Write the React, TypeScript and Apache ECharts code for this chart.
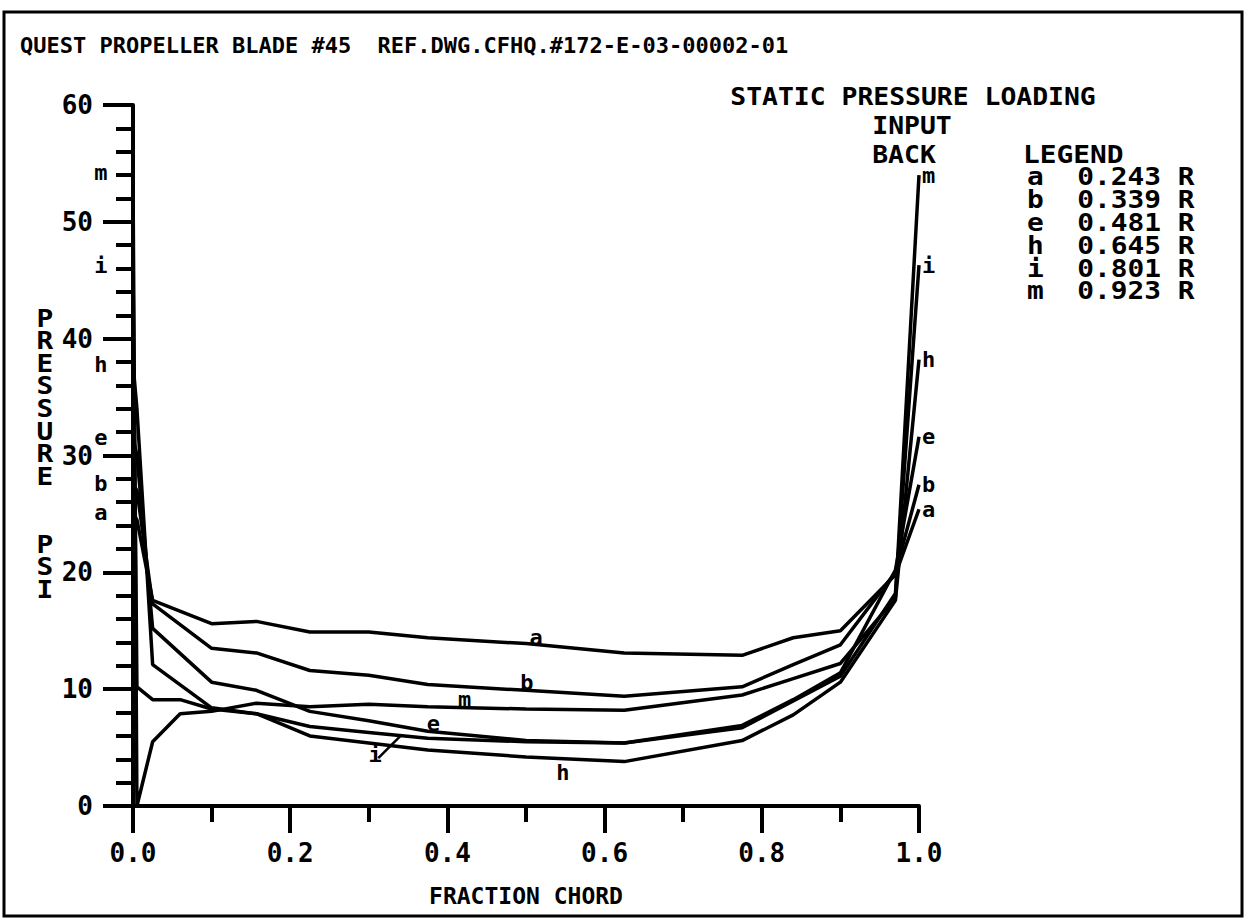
import React, { useEffect, useRef } from "react";
import * as echarts from "echarts";

// ---- data ----
const chord = [0, 0.005, 0.025, 0.06, 0.1, 0.157, 0.225, 0.3, 0.375, 0.5, 0.625, 0.775, 0.84, 0.9, 0.97, 1.0];
const curveLetters = ["a", "b", "e", "h", "i", "m"];
const radii = ["0.243", "0.339", "0.481", "0.645", "0.801", "0.923"];
const valuesA = [25.1, 24.5, 17.6, null, 15.6, 15.8, 14.9, 14.9, 14.4, 13.9, 13.1, 12.9, 14.4, 15.0, 19.8, 25.4];
const valuesB = [27.6, 27.0, 17.3, null, 13.5, 13.1, 11.6, 11.2, 10.4, 9.9, 9.4, 10.2, 12.1, 13.8, 20.0, 27.5];
const valuesE = [31.5, 30.0, 15.2, null, 10.6, 9.9, 8.1, 7.3, 6.4, 5.6, 5.4, 6.9, 9.1, 11.4, 20.2, 31.6];
const valuesH = [37.8, 34.0, 12.1, null, 8.4, 7.9, 6.0, 5.4, 4.8, 4.2, 3.8, 5.6, 7.8, 10.6, 17.6, 38.2];
const valuesI = [46.3, 10.2, 9.1, 9.1, 8.3, 7.9, 6.8, 6.3, 5.8, 5.5, 5.4, 6.7, 9.0, 11.1, 18.2, 46.3];
const valuesM = [54.2, 0.0, 5.5, 7.9, 8.1, 8.8, 8.5, 8.7, 8.5, 8.3, 8.2, 9.5, 10.9, 12.2, 17.8, 54.0];
const allValues = [valuesA, valuesB, valuesE, valuesH, valuesI, valuesM];

// in-plot curve label positions (data coordinates)
const midLabelX = [0.513, 0.501, 0.382, 0.547, 0.308, 0.422];
const midLabelY = [14.4, 10.6, 7.1, 2.9, 4.4, 9.1];
// pointer for the "i" label
const iPointerFrom = [0.312, 4.1];
const iPointerTo = [0.342, 6.1];

const title = "QUEST PROPELLER BLADE #45  REF.DWG.CFHQ.#172-E-03-00002-01";
const infoLines = ["STATIC PRESSURE LOADING", "INPUT", "BACK"];
const yName = "PRESSURE  PSI";
const xName = "FRACTION CHORD";

const FONT = "DejaVu Sans Mono";

export default function App() {
  const ref = useRef<HTMLDivElement>(null);
  useEffect(() => {
    if (!ref.current) return;
    const chart = echarts.init(ref.current, null, { renderer: "svg" });

    const labelFont = {
      color: "#000",
      fontFamily: FONT,
      fontWeight: "bold",
      fontSize: 22,
      lineHeight: 18,
    };

    const series: any[] = allValues.map((vals, k) => {
      const letter = curveLetters[k];
      const data = chord.map((x, j) => [x, vals[j]]);
      const s: any = {
        type: "line",
        name: letter,
        data,
        connectNulls: true,
        showSymbol: false,
        symbol: "none",
        lineStyle: { color: "#000", width: 3.5 },
        itemStyle: { color: "#000" },
        endLabel: { show: true, formatter: letter, distance: 3, ...labelFont },
        markPoint: {
          symbol: "circle",
          symbolSize: 1,
          itemStyle: { color: "rgba(0,0,0,0)" },
          data: [
            {
              coord: [chord[0], vals[0]],
              label: { show: true, position: "left", distance: 25, formatter: letter },
            },
            {
              coord: [midLabelX[k], midLabelY[k]],
              label: { show: true, position: "inside", formatter: letter },
            },
          ],
          label: { ...labelFont },
        },
      };
      if (letter === "i") {
        s.markLine = {
          symbol: ["none", "none"],
          silent: true,
          label: { show: false },
          lineStyle: { color: "#000", width: 2.5, type: "solid" },
          data: [[{ coord: iPointerFrom }, { coord: iPointerTo }]],
        };
      }
      return s;
    });

    const txt = (t: string, x: number, y: number, align: string, size = 24, sx = 1.16) => ({
      type: "text",
      x,
      y,
      scaleX: sx,
      style: {
        text: t,
        fill: "#000",
        font: `bold ${size}px "${FONT}"`,
        textAlign: align,
        textVerticalAlign: "middle",
      },
    });

    const graphics: any[] = [
      {
        type: "rect",
        shape: { x: 4, y: 12, width: 1238, height: 904 },
        style: { fill: "none", stroke: "#000", lineWidth: 3 },
      },
      txt(title, 20, 45, "left", 22, 1),
      txt(infoLines[0], 913, 97, "center", 24, 1.1),
      txt(infoLines[1], 912, 126, "center", 24, 1.1),
      txt(infoLines[2], 904, 155, "center", 24, 1.1),
      txt("LEGEND", 1023, 155, "left"),
      ...curveLetters.map((l, k) => txt(`${l}  ${radii[k]} R`, 1027, 177 + k * 22.8, "left")),
      {
        type: "text",
        x: 45,
        y: 307,
        scaleX: 1.16,
        style: {
          text: yName.split("").join("\n"),
          fill: "#000",
          font: `bold 24px "${FONT}"`,
          lineHeight: 22.6,
          textAlign: "center",
          textVerticalAlign: "top",
        },
      },
    ];

    chart.setOption({
      animation: false,
      backgroundColor: "#fff",
      grid: { left: 133, top: 105, width: 786, height: 701, containLabel: false },
      xAxis: {
        type: "value",
        min: 0,
        max: 1,
        interval: 0.2,
        name: xName,
        nameLocation: "middle",
        nameGap: 78,
        nameTextStyle: { color: "#000", fontFamily: FONT, fontWeight: "bold", fontSize: 23 },
        axisLine: { lineStyle: { color: "#000", width: 4 } },
        axisTick: { show: true, length: 27, lineStyle: { color: "#000", width: 4 } },
        minorTick: { show: true, splitNumber: 2, length: 16, lineStyle: { color: "#000", width: 4 } },
        splitLine: { show: false },
        axisLabel: {
          color: "#000",
          fontFamily: FONT,
          fontWeight: "bold",
          fontSize: 26,
          margin: 34,
          formatter: (v: number) => v.toFixed(1),
        },
      },
      yAxis: {
        type: "value",
        min: 0,
        max: 60,
        interval: 10,
        axisLine: { show: true, lineStyle: { color: "#000", width: 4 } },
        axisTick: { show: true, length: 30, lineStyle: { color: "#000", width: 4 } },
        minorTick: { show: true, splitNumber: 5, length: 17, lineStyle: { color: "#000", width: 4 } },
        splitLine: { show: false },
        axisLabel: {
          color: "#000",
          fontFamily: FONT,
          fontWeight: "bold",
          fontSize: 26,
          margin: 40,
        },
      },
      graphic: graphics,
      series,
    });
    return () => chart.dispose();
  }, []);
  return (
    <div
      ref={ref}
      style={{ position: "absolute", left: 0, top: 0, width: 1247, height: 924, background: "#fff" }}
    />
  );
}
